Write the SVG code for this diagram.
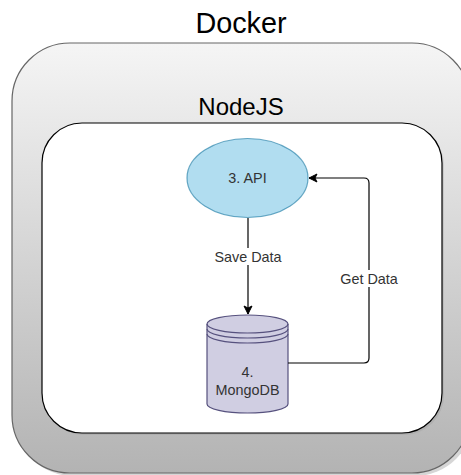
<svg xmlns="http://www.w3.org/2000/svg" width="461" height="475" viewBox="0 0 461 475">
  <defs>
    <linearGradient id="g" x1="0" y1="0" x2="0" y2="1">
      <stop offset="0" stop-color="#f5f5f5"/>
      <stop offset="1" stop-color="#b3b3b3"/>
    </linearGradient>
    <marker id="arr" markerWidth="10" markerHeight="10" viewBox="0 0 10 10" refX="9" refY="5" orient="auto" markerUnits="userSpaceOnUse">
      <path d="M1,1 L9,5 L1,9 L3,5 Z" fill="#000" stroke="#000" stroke-width="1"/>
    </marker>
    <style>
      .lbl{font-family:"Liberation Sans",Arial,sans-serif;fill:#333;font-size:14.4px;text-anchor:middle}
      .big{font-family:"Liberation Sans",Arial,sans-serif;fill:#000;text-anchor:middle}
      .edge{fill:none;stroke:#000;stroke-width:1.2}
    </style>
  </defs>

  <g id="docker">
    <rect x="15" y="46" width="458" height="430" rx="58" fill="#8a8a8a" opacity="0.35"/>
    <rect x="12" y="43" width="458" height="430" rx="58" fill="url(#g)" stroke="#666" stroke-width="1.2"/>
    <text class="big" x="241" y="33" font-size="28.8">Docker</text>
  </g>

  <g id="nodejs">
    <rect x="44" y="125" width="400" height="310" rx="40" fill="#999" opacity="0.3"/>
    <rect x="42" y="123" width="400" height="310" rx="40" fill="#fff" stroke="#000" stroke-width="1.2"/>
    <text class="big" x="241" y="115" font-size="24">NodeJS</text>
  </g>

  <g id="api">
    <ellipse cx="247.5" cy="178" rx="60.5" ry="39.5" fill="#b1ddf0" stroke="#10739e" stroke-width="1.2" stroke-opacity="0.6"/>
    <text class="lbl" x="247.5" y="183">3. API</text>
  </g>

  <g id="mongodb">
    <path d="M207,324 A40.5,9 0 0 1 288,324 L288,404 A40.5,9 0 0 1 207,404 Z" fill="#d0cee2" stroke="#56517e" stroke-width="1.2"/>
    <path d="M207,324 A40.5,9 0 0 0 288,324 M207,329 A40.5,9 0 0 0 288,329 M207,334 A40.5,9 0 0 0 288,334" fill="none" stroke="#56517e" stroke-width="1.2"/>
    <text class="lbl" x="247.5" y="377">4.</text>
    <text class="lbl" x="247.5" y="395">MongoDB</text>
  </g>

  <g id="connectors">
    <path class="edge" d="M248,218 L248,314" marker-end="url(#arr)"/>
    <path class="edge" d="M288,363 L364,363 Q369,363 369,358 L369,183 Q369,178 364,178 L309,178" marker-end="url(#arr)"/>
    <rect x="208" y="248" width="80" height="17" fill="#fff"/>
    <text class="lbl" x="248" y="262">Save Data</text>
    <rect x="334" y="270" width="70" height="17" fill="#fff"/>
    <text class="lbl" x="369" y="284">Get Data</text>
  </g>
</svg>
